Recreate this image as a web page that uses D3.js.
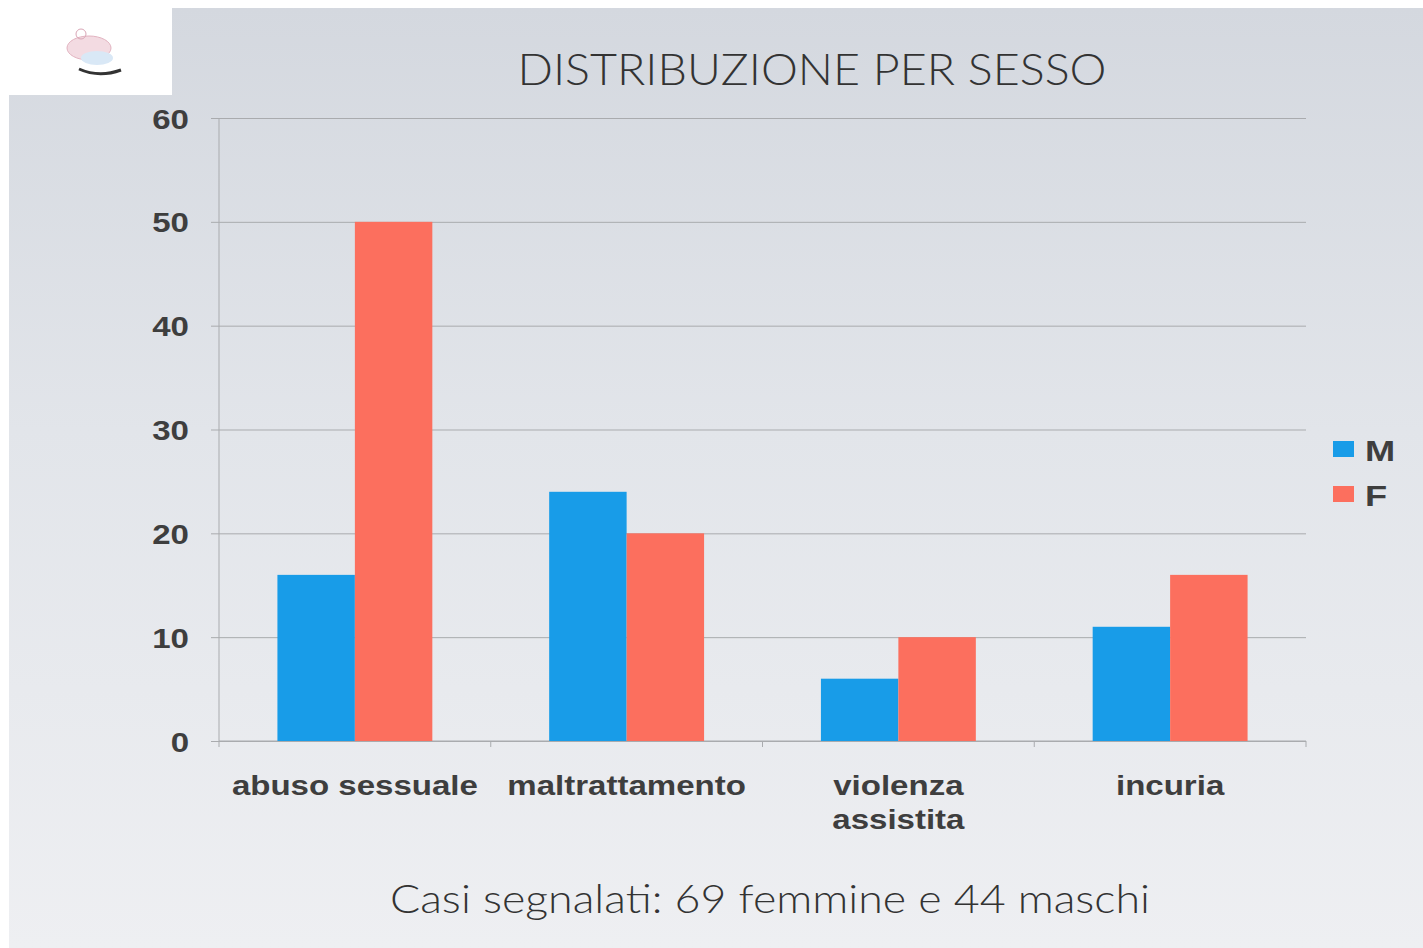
<!DOCTYPE html>
<html>
<head>
<meta charset="utf-8">
<script src="https://cdn.jsdelivr.net/npm/d3@7"></script>
<style>
  body { margin: 0; background: #fff; }
  svg { display: block; }
</style>
</head>
<body>
<div id="chart"></div>
<script>
// data
var categories = ["abuso sessuale", "maltrattamento", "violenza\nassistita", "incuria"];
var seriesNames = ["M", "F"];
var valuesM = [16, 24, 6, 11];
var valuesF = [50, 20, 10, 16];
var yTicks = [0, 10, 20, 30, 40, 50, 60];

var colors = { M: "#189ce8", F: "#fc6f5e" };

var width = 1423, height = 948;
var margin = { top: 118, right: 117, bottom: 207, left: 219 };
var plotW = width - margin.left - margin.right;
var plotH = height - margin.top - margin.bottom;
var stretch = 1.18; // slide text is a bit wide

var svg = d3.select("#chart")
  .append("svg")
  .attr("width", width)
  .attr("height", height);

// slide background
var defs = svg.append("defs");
var grad = defs.append("linearGradient")
  .attr("id", "bg")
  .attr("x1", 0).attr("y1", 0).attr("x2", 0).attr("y2", 1);
grad.append("stop").attr("offset", "0%").attr("stop-color", "#d4d8df");
grad.append("stop").attr("offset", "45%").attr("stop-color", "#e2e5ea");
grad.append("stop").attr("offset", "100%").attr("stop-color", "#eeeff2");

svg.append("rect")
  .attr("x", 9).attr("y", 8)
  .attr("width", width - 9).attr("height", height - 8)
  .attr("fill", "url(#bg)");

// logo box
var logo = svg.append("g").attr("transform", "translate(9,8)");
logo.append("rect").attr("width", 163).attr("height", 87).attr("fill", "#ffffff");
logo.append("ellipse").attr("cx", 80).attr("cy", 40).attr("rx", 22).attr("ry", 12)
  .attr("fill", "#f3dbe2").attr("stroke", "#e2b3c0").attr("stroke-width", 1);
logo.append("ellipse").attr("cx", 88).attr("cy", 50).attr("rx", 16).attr("ry", 7)
  .attr("fill", "#d9e8f6");
logo.append("circle").attr("cx", 72).attr("cy", 26).attr("r", 5)
  .attr("fill", "none").attr("stroke", "#d9a6b6");
logo.append("path").attr("d", "M70,61 Q90,70 112,62")
  .attr("fill", "none").attr("stroke", "#333").attr("stroke-width", 3);

// title
svg.append("text")
  .attr("x", 812)
  .attr("y", 85)
  .attr("text-anchor", "middle")
  .attr("textLength", 589)
  .attr("lengthAdjust", "spacingAndGlyphs")
  .style("font-family", "Lato, 'Open Sans', sans-serif")
  .style("font-weight", 300)
  .style("font-size", "44px")
  .style("fill", "#333333")
  .text("DISTRIBUZIONE PER SESSO");

var g = svg.append("g")
  .attr("transform", "translate(" + margin.left + "," + margin.top + ")");

// scales
var x0 = d3.scaleBand()
  .domain(categories)
  .range([0, plotW])
  .paddingInner(0.43)
  .paddingOuter(0.215);

var x1 = d3.scaleBand()
  .domain(seriesNames)
  .range([0, x0.bandwidth()]);

var y = d3.scaleLinear()
  .domain([0, 60])
  .range([plotH, 0]);

// gridlines + y axis
var yAxis = g.append("g")
  .attr("class", "y-axis")
  .call(d3.axisLeft(y).tickValues(yTicks).tickSize(-plotW).tickPadding(0).tickSizeOuter(0));
yAxis.select(".domain").remove();
yAxis.selectAll(".tick line")
  .attr("x1", -8)
  .attr("stroke", "#a9abae")
  .attr("stroke-width", 1);
yAxis.selectAll(".tick text")
  .attr("x", 0)
  .attr("dy", "0.36em")
  .attr("transform", "translate(-30,0) scale(" + stretch + ",1)")
  .style("font-family", "'Liberation Sans', Arial, sans-serif")
  .style("font-weight", "bold")
  .style("font-size", "28px")
  .style("fill", "#3e3e3e");

g.append("line")
  .attr("x1", 0).attr("x2", 0)
  .attr("y1", 0).attr("y2", plotH)
  .attr("stroke", "#a9abae");

// x axis line and category separators
g.append("line")
  .attr("x1", 0).attr("x2", plotW)
  .attr("y1", plotH).attr("y2", plotH)
  .attr("stroke", "#a9abae");

var bounds = categories.map(function(c) { return x0(c) - x0.step() * x0.paddingOuter(); });
bounds.push(plotW);
g.selectAll(".sep")
  .data(bounds)
  .enter().append("line")
  .attr("class", "sep")
  .attr("x1", function(d) { return d; })
  .attr("x2", function(d) { return d; })
  .attr("y1", plotH)
  .attr("y2", plotH + 6)
  .attr("stroke", "#a9abae");

// bars
var rows = categories.map(function(c, i) {
  return { cat: c, values: [{ key: "M", value: valuesM[i] }, { key: "F", value: valuesF[i] }] };
});

var groups = g.selectAll(".group")
  .data(rows)
  .enter().append("g")
  .attr("class", "group")
  .attr("transform", function(d) { return "translate(" + x0(d.cat) + ",0)"; });

groups.selectAll("rect")
  .data(function(d) { return d.values; })
  .enter().append("rect")
  .attr("x", function(d) { return x1(d.key); })
  .attr("y", function(d) { return y(d.value); })
  .attr("width", x1.bandwidth())
  .attr("height", function(d) { return plotH - y(d.value); })
  .attr("fill", function(d) { return colors[d.key]; });

// category labels
var labels = g.selectAll(".xlabel")
  .data(categories)
  .enter().append("g")
  .attr("class", "xlabel")
  .attr("transform", function(d) {
    return "translate(" + (x0(d) + x0.bandwidth() / 2) + "," + (plotH + 54) + ") scale(" + stretch + ",1)";
  });

labels.each(function(d) {
  var lines = d.split("\n");
  var t = d3.select(this).append("text")
    .attr("text-anchor", "middle")
    .style("font-family", "'Liberation Sans', Arial, sans-serif")
    .style("font-weight", "bold")
    .style("font-size", "28px")
    .style("fill", "#3e3e3e");
  lines.forEach(function(line, i) {
    t.append("tspan").attr("x", 0).attr("y", i * 34).text(line);
  });
});

// legend
var legend = svg.append("g")
  .attr("transform", "translate(1333,441)");

var items = legend.selectAll(".item")
  .data(seriesNames)
  .enter().append("g")
  .attr("class", "item")
  .attr("transform", function(d, i) { return "translate(0," + (i * 45) + ")"; });

items.append("rect")
  .attr("width", 21)
  .attr("height", 16)
  .attr("fill", function(d) { return colors[d]; });

items.append("text")
  .attr("transform", "translate(32,20) scale(1.25,1)")
  .style("font-family", "'Liberation Sans', Arial, sans-serif")
  .style("font-weight", "bold")
  .style("font-size", "29px")
  .style("fill", "#3e3e3e")
  .text(function(d) { return d; });

// footer note
svg.append("text")
  .attr("x", 770)
  .attr("y", 913)
  .attr("text-anchor", "middle")
  .attr("textLength", 760)
  .attr("lengthAdjust", "spacingAndGlyphs")
  .style("font-family", "Lato, 'Open Sans', sans-serif")
  .style("font-weight", 300)
  .style("font-size", "39px")
  .style("fill", "#333333")
  .text("Casi segnalati: 69 femmine e 44 maschi");
</script>
</body>
</html>
